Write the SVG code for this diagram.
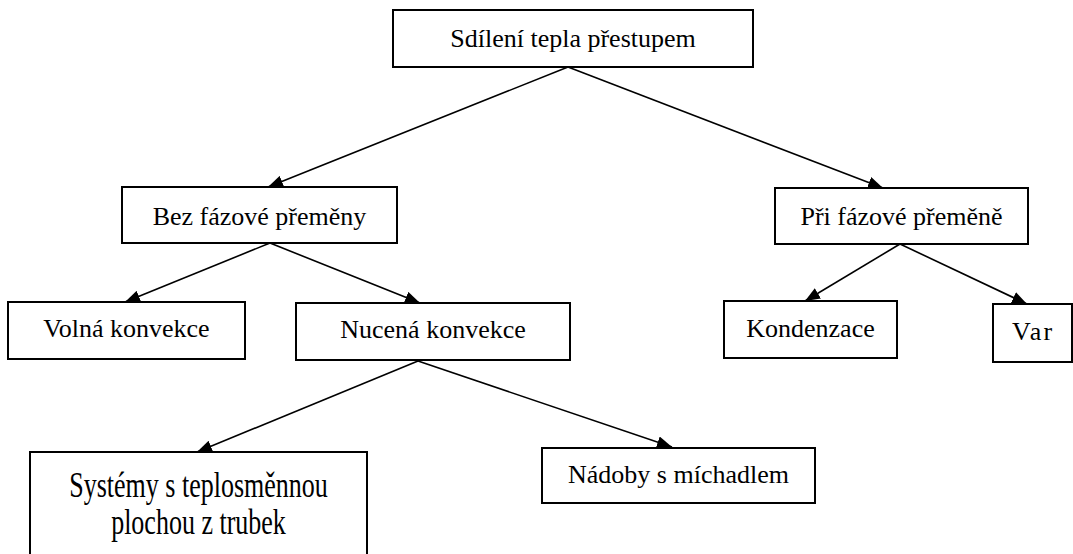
<svg xmlns="http://www.w3.org/2000/svg" width="1073" height="554" viewBox="0 0 1073 554">
<style>
.box{fill:#fff;stroke:#000;stroke-width:2}
.t{font-family:"Liberation Serif","Times New Roman",serif;font-size:26px;fill:#000;text-anchor:middle}
.c{stroke:#000;stroke-width:1.6;fill:none;marker-end:url(#ah)}
</style>
<defs>
<marker id="ah" markerUnits="userSpaceOnUse" markerWidth="16" markerHeight="12" refX="15" refY="6" orient="auto">
<path d="M0,0 L15,6 L0,12 z" fill="#000"/>
</marker>
</defs>
<rect width="1073" height="554" fill="#fff"/>
<g id="connectors">
<line class="c" x1="568" y1="67" x2="268" y2="187"/>
<line class="c" x1="568" y1="67" x2="883" y2="188"/>
<line class="c" x1="270" y1="243" x2="125" y2="302"/>
<line class="c" x1="270" y1="243" x2="420" y2="303"/>
<line class="c" x1="900" y1="244" x2="805" y2="301"/>
<line class="c" x1="900" y1="244" x2="1027" y2="304"/>
<line class="c" x1="418" y1="361" x2="197" y2="452"/>
<line class="c" x1="418" y1="361" x2="672" y2="447"/>
</g>
<g id="n-root">
<rect class="box" x="393" y="10" width="360" height="57"/>
<text class="t" x="573" y="47">Sdílení tepla přestupem</text>
</g>
<g id="n-bez">
<rect class="box" x="122" y="187" width="275" height="56"/>
<text class="t" x="259.5" y="225">Bez fázové přeměny</text>
</g>
<g id="n-pri">
<rect class="box" x="775" y="188" width="253" height="56"/>
<text class="t" x="901.5" y="225">Při fázové přeměně</text>
</g>
<g id="n-volna">
<rect class="box" x="8" y="302" width="237" height="57"/>
<text class="t" x="126.5" y="337">Volná konvekce</text>
</g>
<g id="n-nucena">
<rect class="box" x="296" y="303" width="274" height="57"/>
<text class="t" x="433" y="338">Nucená konvekce</text>
</g>
<g id="n-kondenzace">
<rect class="box" x="724" y="301" width="173" height="57"/>
<text class="t" x="810.5" y="337">Kondenzace</text>
</g>
<g id="n-var">
<rect class="box" x="993" y="304" width="79" height="58"/>
<text class="t" x="1033" y="340" letter-spacing="2">Var</text>
</g>
<g id="n-systemy">
<rect class="box" x="30" y="452" width="337" height="120"/>
<text class="t" transform="translate(198.5,497) scale(1,1.4)">Systémy s teplosměnnou</text>
<text class="t" transform="translate(198.5,534) scale(1,1.4)">plochou z trubek</text>
</g>
<g id="n-nadoby">
<rect class="box" x="542" y="448" width="273" height="55"/>
<text class="t" x="678.5" y="483">Nádoby s míchadlem</text>
</g>
</svg>
